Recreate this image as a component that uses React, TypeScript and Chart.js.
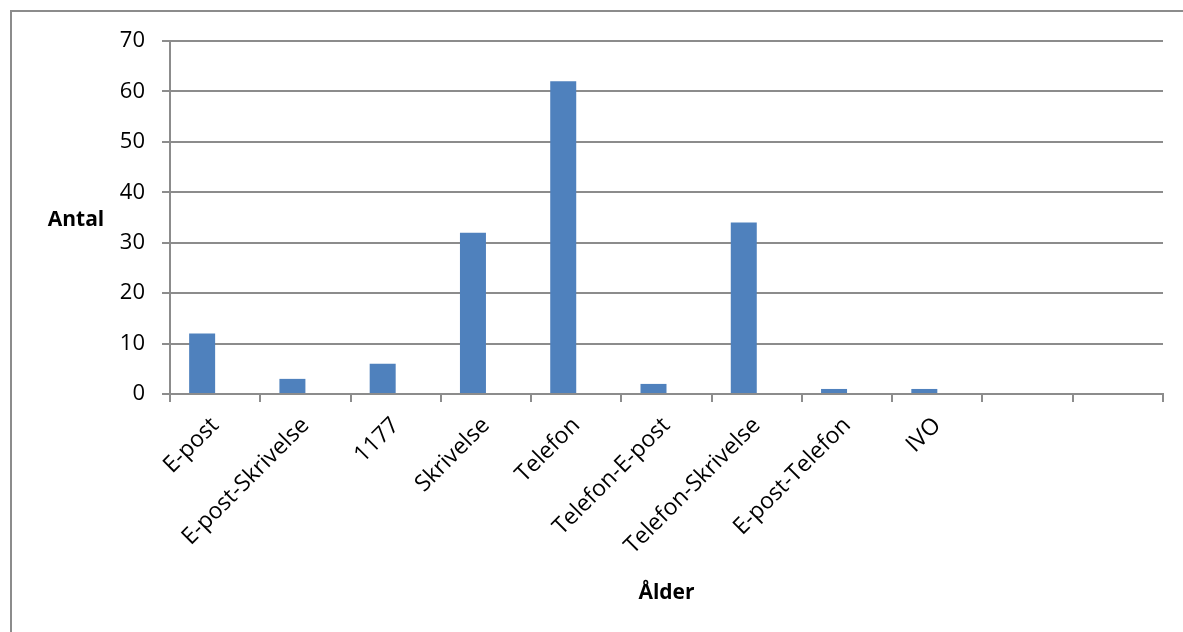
import React, { useEffect, useRef } from "react";
import { Chart, registerables } from "chart.js";

Chart.register(...registerables);

const categories: string[] = [
  "E-post",
  "E-post-Skrivelse",
  "1177",
  "Skrivelse",
  "Telefon",
  "Telefon-E-post",
  "Telefon-Skrivelse",
  "E-post-Telefon",
  "IVO",
  "",
  "",
];
const antalValues: (number | null)[] = [12, 3, 6, 32, 62, 2, 34, 1, 1, null, null];
const emptySeries: (number | null)[] = [null, null, null, null, null, null, null, null, null, null, null];
const yTicks: number[] = [0, 10, 20, 30, 40, 50, 60, 70];

const yTitle = "Antal";
const xTitle = "Ålder";

const FONT = "'Open Sans', sans-serif";
const GRID = "#8c8c8c";

const titlePlugin = {
  id: "axisTitles",
  afterDraw(chart: any) {
    const { ctx, chartArea } = chart;
    ctx.save();
    ctx.fillStyle = "#000";
    ctx.font = `bold 21px ${FONT}`;
    ctx.textAlign = "center";
    ctx.textBaseline = "alphabetic";
    ctx.fillText(yTitle, 76, 226);
    ctx.fillText(xTitle, (chartArea.left + chartArea.right) / 2, 599);
    ctx.restore();
  },
};

export default function App() {
  const ref = useRef<HTMLCanvasElement | null>(null);
  useEffect(() => {
    if (!ref.current) return;
    const chart = new Chart(ref.current, {
      type: "bar",
      data: {
        labels: categories,
        datasets: [
          {
            label: "Antal",
            data: antalValues,
            backgroundColor: "#4F81BD",
            borderWidth: 0,
            categoryPercentage: 0.576,
            barPercentage: 1,
          },
          {
            label: "",
            data: emptySeries,
            backgroundColor: "#C0504D",
            borderWidth: 0,
            categoryPercentage: 0.576,
            barPercentage: 1,
          },
        ],
      },
      options: {
        responsive: false,
        animation: false,
        layout: { padding: { top: 41, right: 20, left: 0, bottom: 0 } },
        plugins: {
          legend: { display: false },
          tooltip: { enabled: false },
        },
        scales: {
          x: {
            offset: true,
            grid: {
              offset: true,
              drawOnChartArea: false,
              drawTicks: true,
              tickLength: 8,
              color: GRID,
              lineWidth: 2,
            },
            border: { display: true, color: GRID, width: 2 },
            ticks: {
              autoSkip: false,
              maxRotation: 45,
              minRotation: 45,
              padding: 10,
              color: "#000",
              font: { family: FONT, size: 23 },
            },
            afterFit(scale: any) {
              scale.height = 632 - 394;
            },
          },
          y: {
            min: 0,
            max: 70,
            afterBuildTicks(scale: any) {
              scale.ticks = yTicks.map((v) => ({ value: v }));
            },
            grid: {
              color: GRID,
              lineWidth: 2,
              tickLength: 8,
            },
            border: { display: true, color: GRID, width: 2 },
            ticks: {
              padding: 17,
              color: "#000",
              font: { family: FONT, size: 22 },
            },
            afterFit(scale: any) {
              scale.width = 170;
            },
          },
        },
      },
      plugins: [titlePlugin],
    });
    return () => chart.destroy();
  }, []);

  return (
    <div
      style={{
        position: "fixed",
        left: 0,
        top: 0,
        width: 1183,
        height: 632,
        overflow: "hidden",
        background: "#fff",
      }}
    >
      <div
        style={{
          position: "absolute",
          left: 10,
          top: 10,
          width: 1200,
          height: 700,
          border: "2px solid #8c8c8c",
          boxSizing: "border-box",
        }}
      />
      <canvas
        ref={ref}
        width={1183}
        height={632}
        style={{ position: "absolute", left: 0, top: 0, width: 1183, height: 632 }}
      />
    </div>
  );
}
